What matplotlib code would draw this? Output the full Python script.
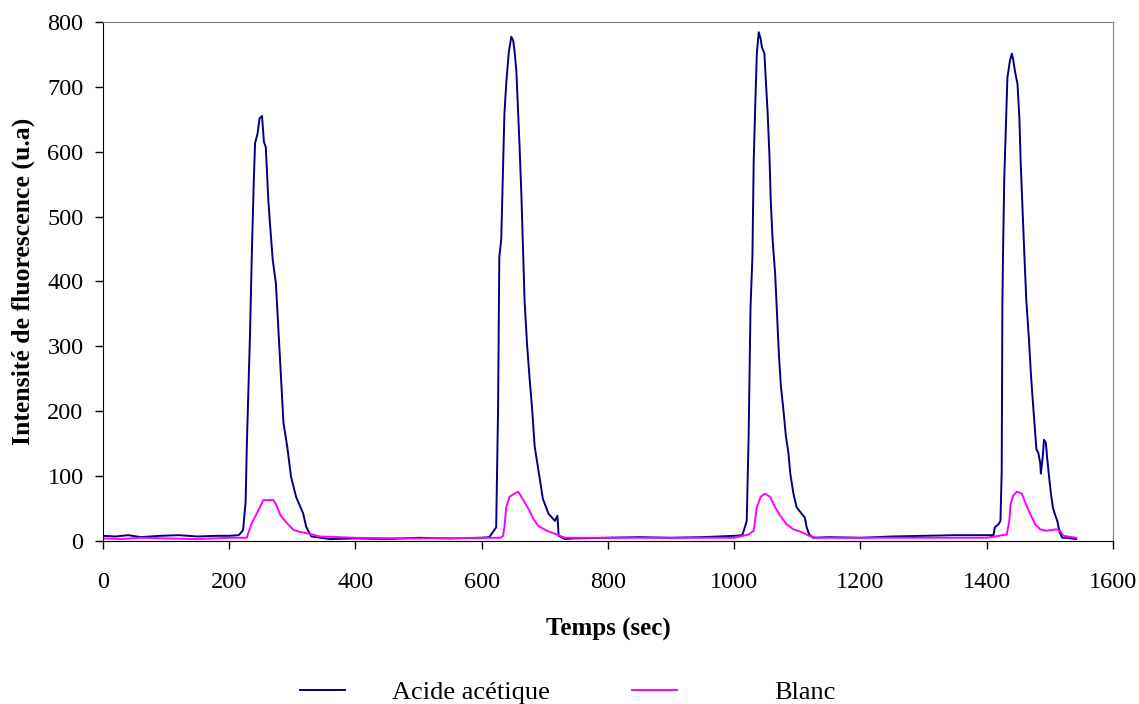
import matplotlib
matplotlib.use('Agg')
import matplotlib.pyplot as plt

# values (time in s, intensity in u.a)
acide_t = [0, 20, 40, 60, 90, 120, 150, 180, 200, 215,
           218, 222, 226, 228, 233, 236, 239, 241, 245, 248, 252, 255, 258, 262, 265, 269,
           274, 278, 282, 286, 292, 298, 306, 317, 322, 330, 360, 400, 450, 500, 550, 600, 612,
           615, 623, 626, 628, 631, 634, 636, 639, 643, 647, 650, 652, 655, 658, 660, 663,
           666, 668, 672, 676, 680, 684, 690, 697, 706, 716, 720, 722, 732, 745, 800, 850,
           900, 950, 1000, 1013,
           1016, 1020, 1023, 1026, 1029, 1031, 1034, 1036, 1039, 1042, 1044, 1048, 1050,
           1053, 1056, 1058, 1061, 1065, 1068, 1071, 1074, 1078, 1082, 1086, 1089, 1094,
           1099, 1107, 1112, 1115, 1119, 1125, 1150, 1200, 1250, 1300, 1350, 1400, 1411,
           1413, 1419, 1422, 1424, 1425, 1426, 1428, 1431, 1433, 1437, 1440, 1442, 1445,
           1449, 1452, 1454, 1457, 1460, 1463, 1467, 1470, 1473, 1477, 1479, 1482, 1485,
           1486, 1489, 1491, 1494, 1496, 1499, 1502, 1505, 1508, 1512, 1516, 1520, 1527, 1542]
acide_y = [8, 7, 9, 6, 8, 9, 7, 8, 8, 9,
           12, 17, 60, 150, 320, 448, 556, 613, 628, 651, 655, 615, 607, 525, 484, 433, 397,
           325, 253, 182, 145, 99, 68, 43, 22, 7, 3, 4, 3, 5, 4, 5, 6,
           10, 21, 203, 438, 464, 584, 657, 706, 753, 777, 771, 756, 724, 657, 610, 532,
           438, 370, 302, 250, 203, 146, 109, 65, 42, 31, 39, 8, 3, 4, 5, 6,
           5, 6, 8, 9,
           18, 31, 162, 360, 438, 584, 688, 751, 784, 774, 761, 751, 714,
           662, 594, 526, 464, 412, 349, 287, 240, 203, 162, 136, 104, 73,
           52, 42, 36, 21, 10, 5, 6, 5, 7, 8, 9, 9, 9,
           21, 26, 31, 109, 360, 438, 558, 652, 714, 740, 751, 743, 724,
           704, 652, 584, 511, 438, 370, 313, 261, 219, 167, 141, 136, 120,
           104, 130, 156, 151, 128, 99, 73, 52, 42, 31, 13, 5, 5, 3]

blanc_t = [0, 30, 60, 100, 150, 200, 228, 230, 236, 244, 250, 254, 262, 270, 275, 281,
           291, 302, 312, 323, 344, 400, 500, 600, 630,
           634, 636, 639, 644, 652, 658, 666, 674, 682, 690, 703, 719, 732, 800, 900, 1000,
           1023, 1031, 1036, 1042, 1049, 1057, 1065, 1073, 1083, 1094, 1109, 1119, 1130,
           1200, 1300, 1400, 1432, 1436, 1438, 1442, 1448, 1456, 1461, 1469, 1477, 1485,
           1495, 1511, 1516, 1522, 1542]
blanc_y = [4, 3, 5, 4, 3, 5, 5, 12, 28, 43, 55, 63, 63, 63, 55, 40,
           28, 17, 14, 12, 7, 5, 4, 5, 5,
           8, 21, 52, 68, 73, 76, 63, 50, 34, 23, 16, 10, 5, 5, 5, 5,
           10, 16, 52, 68, 73, 68, 52, 39, 26, 18, 13, 8, 5,
           5, 5, 5, 10, 31, 57, 70, 76, 73, 60, 42, 26, 18,
           16, 18, 16, 8, 5]

plt.rcParams['font.family'] = 'Liberation Serif'

fig = plt.figure(figsize=(11.39, 7.04), dpi=100)
ax = fig.add_axes([0.0904, 0.2315, 0.8866, 0.7375])

l1, = ax.plot(acide_t, acide_y, color='#000080', lw=1.4, label='Acide acétique')
l2, = ax.plot(blanc_t, blanc_y, color='#FF00FF', lw=1.4, label='Blanc')

ax.set_xlim(0, 1600)
ax.set_ylim(0, 800)
ax.set_xticks(range(0, 1601, 200))
ax.set_yticks(range(0, 801, 100))
ax.tick_params(labelsize=17.5, direction='out', length=6, width=1)
ax.tick_params(axis='x', pad=16)
ax.tick_params(axis='y', pad=8)
ax.spines['top'].set_color('#808080')
ax.spines['right'].set_color('#808080')

ax.set_xlabel('Temps (sec)', fontsize=18, fontweight='bold', labelpad=18)
ax.set_ylabel('Intensité de fluorescence (u.a)', fontsize=18.5, fontweight='bold', labelpad=9)

# excel style legend: two fixed-width columns
leg1 = fig.legend(handles=[l1], loc='center left', bbox_to_anchor=(300 / 1139, 0.017),
                  frameon=False, fontsize=19, handlelength=1.7, handletextpad=1.8,
                  borderpad=0, borderaxespad=0)
leg2 = fig.legend(handles=[l2], loc='center left', bbox_to_anchor=(632 / 1139, 0.017),
                  frameon=False, fontsize=19, handlelength=1.7, handletextpad=3.7,
                  borderpad=0, borderaxespad=0)

fig.savefig('out.png', dpi=100)
